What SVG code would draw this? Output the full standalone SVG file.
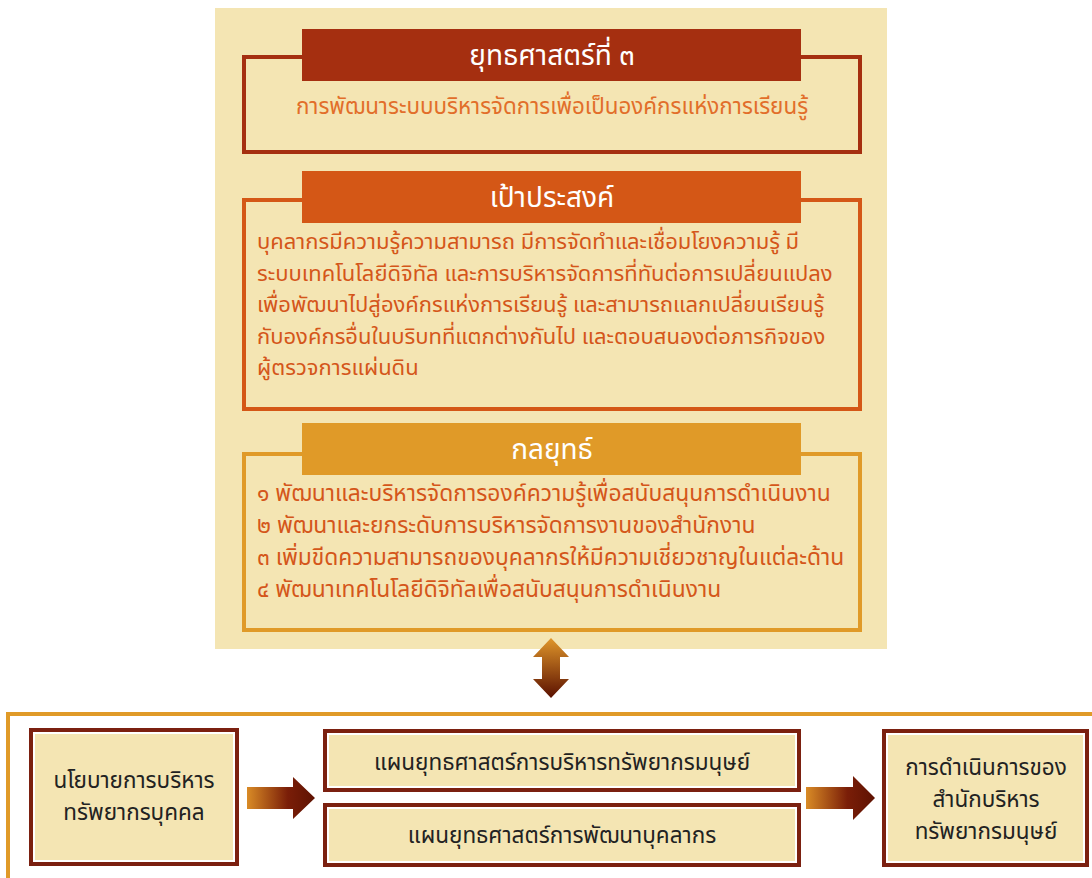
<svg xmlns="http://www.w3.org/2000/svg" width="1092" height="878" viewBox="0 0 1092 878">
<defs>
<linearGradient id="gh" x1="0" y1="0" x2="1" y2="0">
<stop offset="0" stop-color="#D98B26"/>
<stop offset="0.6" stop-color="#7A1E08"/>
<stop offset="1" stop-color="#5E1202"/>
</linearGradient>
<linearGradient id="gv" x1="0" y1="0" x2="0" y2="1">
<stop offset="0" stop-color="#E0962A"/>
<stop offset="1" stop-color="#5A1000"/>
</linearGradient>
<style>
text{font-family:"Noto Sans Thai","Noto Sans","DejaVu Sans",sans-serif}
.title{fill:#fff;font-size:28px;text-anchor:middle}
.b1{fill:#E26E2A;font-size:22.4px;text-anchor:middle}
.body{fill:#D4561A;font-size:22px}
.b3{fill:#D4561A;font-size:22.8px}
.dark{fill:#222;font-size:22.5px;text-anchor:middle}
.bx{fill:#F4E5B3;stroke:#fff;stroke-width:2}
.bo{fill:#7B2010}
</style>
</defs>
<rect x="0" y="0" width="1092" height="878" fill="#fff"/>
<rect x="215" y="8" width="672" height="641" fill="#F4E5B3"/>

<g id="strategy">
<rect x="244" y="57" width="616" height="95" fill="none" stroke="#A52F10" stroke-width="4"/>
<rect x="302" y="29" width="499" height="52" fill="#A52F10"/>
<text class="title" x="552" y="65">ยุทธศาสตร์ที่ ๓</text>
<text class="b1" x="552" y="114">การพัฒนาระบบบริหารจัดการเพื่อเป็นองค์กรแห่งการเรียนรู้</text>
</g>

<g id="goal">
<rect x="244" y="200" width="616" height="209" fill="none" stroke="#D45716" stroke-width="4"/>
<rect x="302" y="171" width="499" height="52" fill="#D45716"/>
<text class="title" x="552" y="207">เป้าประสงค์</text>
<text class="body" x="257" y="249">บุคลากรมีความรู้ความสามารถ มีการจัดทำและเชื่อมโยงความรู้ มี</text>
<text class="body" x="257" y="280.5">ระบบเทคโนโลยีดิจิทัล และการบริหารจัดการที่ทันต่อการเปลี่ยนแปลง</text>
<text class="body" x="257" y="312">เพื่อพัฒนาไปสู่องค์กรแห่งการเรียนรู้ และสามารถแลกเปลี่ยนเรียนรู้</text>
<text class="body" x="257" y="343.5">กับองค์กรอื่นในบริบทที่แตกต่างกันไป และตอบสนองต่อภารกิจของ</text>
<text class="body" x="257" y="375">ผู้ตรวจการแผ่นดิน</text>
</g>

<g id="tactics">
<rect x="244" y="454" width="616" height="176" fill="none" stroke="#E09A28" stroke-width="4"/>
<rect x="302" y="423" width="499" height="52" fill="#E09A28"/>
<text class="title" x="552" y="459">กลยุทธ์</text>
<text class="b3" x="257" y="501">๑ พัฒนาและบริหารจัดการองค์ความรู้เพื่อสนับสนุนการดำเนินงาน</text>
<text class="b3" x="257" y="533">๒ พัฒนาและยกระดับการบริหารจัดการงานของสำนักงาน</text>
<text class="b3" x="257" y="565">๓ เพิ่มขีดความสามารถของบุคลากรให้มีความเชี่ยวชาญในแต่ละด้าน</text>
<text class="b3" x="257" y="597">๔ พัฒนาเทคโนโลยีดิจิทัลเพื่อสนับสนุนการดำเนินงาน</text>
</g>

<path d="M8,878 V714 H1092" fill="none" stroke="#E09A28" stroke-width="4"/>

<g id="policy">
<rect class="bo" x="29" y="728" width="210" height="138"/>
<rect class="bx" x="34" y="733" width="200" height="128"/>
<text class="dark" x="134" y="788">นโยบายการบริหาร</text>
<text class="dark" x="134" y="820">ทรัพยากรบุคคล</text>
</g>

<g id="plan-hr">
<rect class="bo" x="323" y="729" width="478" height="63"/>
<rect class="bx" x="328" y="734" width="468" height="53"/>
<text class="dark" x="562" y="770">แผนยุทธศาสตร์การบริหารทรัพยากรมนุษย์</text>
</g>

<g id="plan-dev">
<rect class="bo" x="323" y="803" width="478" height="64"/>
<rect class="bx" x="328" y="808" width="468" height="54"/>
<text class="dark" x="562" y="843">แผนยุทธศาสตร์การพัฒนาบุคลากร</text>
</g>

<g id="operation">
<rect class="bo" x="882" y="729" width="207" height="138"/>
<rect class="bx" x="887" y="734" width="197" height="128"/>
<text class="dark" x="986" y="775">การดำเนินการของ</text>
<text class="dark" x="986" y="807">สำนักบริหาร</text>
<text class="dark" x="986" y="839">ทรัพยากรมนุษย์</text>
</g>

<g id="connectors">
<path d="M551,638 L569,657 L560,657 L560,679 L569,679 L551,698 L533,679 L542,679 L542,657 L533,657 Z" fill="url(#gv)"/>
<path d="M247,787 H293 V777 L315,798 L293,819 V809 H247 Z" fill="url(#gh)"/>
<path d="M806,787 H853 V776 L875,798 L853,820 V809 H806 Z" fill="url(#gh)"/>
</g>
</svg>
